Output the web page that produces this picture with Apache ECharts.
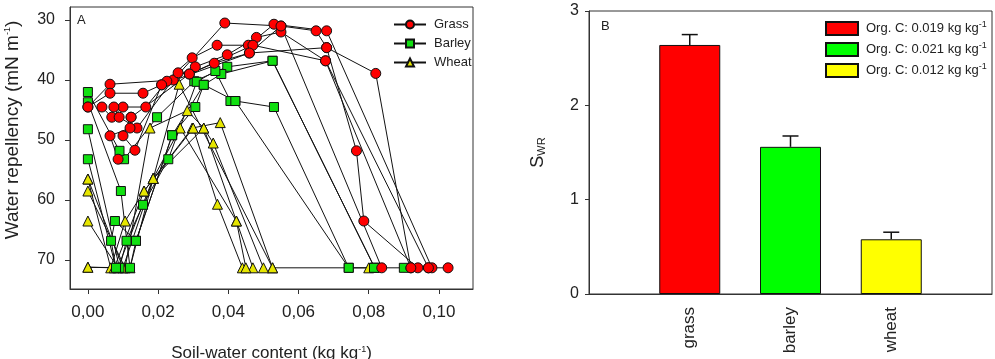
<!DOCTYPE html>
<html>
<head>
<meta charset="utf-8">
<script src="https://cdn.jsdelivr.net/npm/echarts@6/dist/echarts.min.js"></script>
<style>
  html, body { margin: 0; padding: 0; background: #fff; }
  #chart { width: 995px; height: 359px; }
</style>
</head>
<body>
<div id="chart"></div>
<script>
// Panel A: drying curves, [soil-water content, water repellency]
const grassCurves = [
  [[0.1026, 71.3], [0.097, 71.3], [0.092, 71.3], [0.082, 38.9], [0.068, 34.6], [0.065, 31.8], [0.055, 31], [0.039, 30.5], [0.0243, 40], [0.0063, 40.7], [0, 44.5]],
  [[0.098, 71.3], [0.068, 31.8], [0.053, 30.7], [0.0457, 34.2], [0.0368, 34.2], [0.0297, 36.3], [0.021, 40.8], [0.0157, 42.2], [0.0063, 42.2], [0, 44.5]],
  [[0.097, 71.3], [0.0677, 36.8], [0.055, 32], [0.048, 32.9], [0.0397, 35.8], [0.0306, 37.8], [0.0225, 40.2], [0.0165, 44.5], [0.01, 44.5], [0.0068, 46.2], [0.004, 44.5]],
  [[0.094, 71.3], [0.0786, 63.5], [0.0765, 51.8], [0.068, 34.6], [0.046, 35.5], [0.036, 37.2], [0.0289, 39], [0.0257, 38.8], [0.014, 48], [0.0089, 46.2], [0.0074, 44.5]],
  [[0.092, 71.3], [0.0677, 36.8], [0.047, 34.2], [0.0289, 39], [0.0123, 46.2], [0.012, 48], [0.0063, 49.3], [0.0086, 53.2]],
  [[0.0837, 71.3], [0.055, 31], [0.046, 35.5], [0.021, 40.8], [0.0134, 51.7], [0.01, 49.3], [0.0123, 46.2]]
];
const barleyCurves = [
  [[0.09, 71.3], [0.0817, 71.3], [0.0526, 36.8], [0.0397, 37.8], [0.0303, 40.2], [0.0197, 46.2], [0.0103, 53.2], [0.009, 51.8], [0, 42]],
  [[0.0817, 71.3], [0.0526, 36.8], [0.038, 39], [0.033, 40.8], [0.024, 49.2], [0.0137, 66.8], [0.012, 71.3], [0.0094, 58.5], [0, 43.7]],
  [[0.0743, 71.3], [0.042, 43.5], [0.0406, 43.5], [0.0363, 38.5], [0.031, 40.3], [0.0229, 53.2], [0.0157, 60.8], [0.011, 66.8], [0.009, 71.3], [0, 48.2]],
  [[0.0815, 71.3], [0.0743, 71.3], [0.053, 44.5], [0.042, 43.5], [0.033, 40.8], [0.0306, 44.5], [0.024, 49.2], [0.0137, 66.8], [0.0077, 63.5], [0.0066, 66.8], [0.008, 71.3], [0, 53.2]]
];
const wheatCurves = [
  [[0.08, 71.3], [0.0526, 71.3], [0.026, 40.7], [0.0186, 56.4], [0.012, 71.3], [0, 71.2]],
  [[0.0526, 71.3], [0.0377, 47.1], [0.0297, 48], [0.016, 58.5], [0.0106, 63.5], [0.0065, 71.3], [0, 56.5]],
  [[0.05, 71.3], [0.0357, 50.5], [0.033, 48], [0.0283, 45.1], [0.0177, 48], [0.0106, 71.3], [0, 58.5]],
  [[0.047, 71.3], [0.0423, 63.5], [0.0263, 48], [0.0186, 56.4], [0.0085, 71.3], [0, 63.5]],
  [[0.044, 71.3], [0.0369, 60.7], [0.03, 48], [0.016, 58.5], [0.0075, 71.3], [0, 71.2]],
  [[0.045, 71.3], [0.0423, 63.5], [0.033, 48], [0.0186, 56.4], [0.01, 71.3], [0, 56.5]]
];
const xTicksA = [0, 0.02, 0.04, 0.06, 0.08, 0.10];
const yTicksA = [30, 40, 50, 60, 70];

// Panel B: S_WR per crop
const cropNames = ['', 'grass', 'barley', 'wheat', ''];
const swrValues = [2.64, 1.56, 0.58];
const swrErrors = [0.11, 0.115, 0.075];
const orgCLabels = ['Org. C: 0.019 kg kg-1', 'Org. C: 0.021 kg kg-1', 'Org. C: 0.012 kg kg-1'];
const barColors = ['#ff0000', '#00ff00', '#ffff00'];

const txt = '#222';
const font = 'Liberation Sans, Arial, sans-serif';
const sup = { fontSize: 9, verticalAlign: 'top', padding: [0, 0, 8, 0], color: txt };

const chart = echarts.init(document.getElementById('chart'));

function curveSeries(curves, name, symbol, size, color) {
  return curves.map((c) => ({
    type: 'line',
    name: name,
    xAxisIndex: 0,
    yAxisIndex: 0,
    data: c,
    symbol: symbol,
    symbolSize: size,
    showAllSymbol: true,
    animation: false,
    lineStyle: { color: '#111', width: 1 },
    itemStyle: { color: color, borderColor: '#111', borderWidth: 1 }
  }));
}

const barSeries = swrValues.map((v, i) => ({
  type: 'bar',
  name: orgCLabels[i],
  xAxisIndex: 1,
  yAxisIndex: 1,
  barWidth: 61,
  barGap: '-100%',
  data: cropNames.map((c, j) => (j === i + 1 ? v : '-')),
  itemStyle: { color: barColors[i], borderColor: '#111', borderWidth: 1 },
  animation: false
}));

const errSeries = {
  type: 'custom',
  xAxisIndex: 1,
  yAxisIndex: 1,
  z: 5,
  animation: false,
  data: swrValues.map((v, i) => [i + 1, v, v + swrErrors[i]]),
  renderItem: (params, api) => {
    const base = api.coord([api.value(0), api.value(1)]);
    const top = api.coord([api.value(0), api.value(2)]);
    const st = { stroke: '#111', lineWidth: 1.5 };
    return {
      type: 'group',
      children: [
        { type: 'line', shape: { x1: base[0], y1: base[1], x2: top[0], y2: top[1] }, style: st },
        { type: 'line', shape: { x1: top[0] - 8, y1: top[1], x2: top[0] + 8, y2: top[1] }, style: st }
      ]
    };
  }
};

const option = {
  backgroundColor: '#fff',
  textStyle: { fontFamily: font, color: txt },
  grid: [
    { left: 70, top: 7, width: 403, height: 282, outerBoundsMode: 'none', containLabel: false, show: true, borderColor: '#333', borderWidth: 1, backgroundColor: 'transparent' },
    { left: 589, top: 11, width: 403, height: 283, outerBoundsMode: 'none', containLabel: false, show: true, borderColor: '#333', borderWidth: 1, backgroundColor: 'transparent' }
  ],
  legend: [
    {
      data: ['Grass', 'Barley', 'Wheat'],
      orient: 'vertical',
      left: 388,
      top: 13,
      itemWidth: 32,
      itemHeight: 10,
      itemGap: 6,
      textStyle: { fontSize: 13, color: txt, padding: [0, 0, 0, 3] }
    },
    {
      data: orgCLabels,
      orient: 'vertical',
      left: 820,
      top: 15,
      itemWidth: 32,
      itemHeight: 13,
      itemGap: 5,
      icon: 'rect',
      formatter: (n) => n.replace('-1', '{sup|-1}'),
      textStyle: { fontSize: 13, color: txt, padding: [0, 0, 0, 3], rich: { sup: sup } }
    }
  ],
  xAxis: [
    {
      type: 'value',
      gridIndex: 0,
      min: -0.0051,
      max: 0.1097,
      splitLine: { show: false },
      axisLine: { show: true, onZero: false, lineStyle: { color: '#333' } },
      axisTick: { show: true, length: 5, customValues: xTicksA, lineStyle: { color: '#333' } },
      axisLabel: {
        customValues: xTicksA,
        margin: 15,
        fontSize: 17,
        color: txt,
        formatter: (v) => v.toFixed(2).replace('.', ',')
      },
      name: 'Soil-water content (kg kg{sup|-1})',
      nameLocation: 'middle',
      nameGap: 56,
      nameTextStyle: { fontSize: 17, color: txt, rich: { sup: sup } }
    },
    {
      type: 'category',
      gridIndex: 1,
      data: cropNames,
      boundaryGap: false,
      axisLine: { show: true, lineStyle: { color: '#333' } },
      axisTick: { show: false },
      axisLabel: { rotate: 90, margin: 13, fontSize: 17, color: txt, interval: 0 }
    }
  ],
  yAxis: [
    {
      type: 'value',
      gridIndex: 0,
      inverse: true,
      min: 27.83,
      max: 74.83,
      splitLine: { show: false },
      axisLine: { show: true, onZero: false, lineStyle: { color: '#333' } },
      axisTick: { show: true, length: 5, customValues: yTicksA, lineStyle: { color: '#333' } },
      axisLabel: { customValues: yTicksA, margin: 15, fontSize: 16, color: txt },
      name: 'Water repellency (mN m{sup|-1})',
      nameLocation: 'middle',
      nameGap: 48,
      nameTextStyle: { fontSize: 19, color: txt, padding: [0, 0, 0, 36], rich: { sup: sup } }
    },
    {
      type: 'value',
      gridIndex: 1,
      min: 0,
      max: 3,
      interval: 1,
      splitLine: { show: false },
      axisLine: { show: true, lineStyle: { color: '#333' } },
      axisTick: { show: true, length: 4, lineStyle: { color: '#333' } },
      axisLabel: { margin: 10, fontSize: 16, color: txt },
      name: 'S{sub|WR}',
      nameLocation: 'middle',
      nameGap: 42,
      nameTextStyle: {
        fontSize: 18,
        color: txt,
        rich: { sub: { fontSize: 11, verticalAlign: 'bottom', padding: [6, 0, 0, 0], color: txt } }
      }
    }
  ],
  graphic: [
    { type: 'text', left: 77, top: 14, style: { text: 'A', font: '13px Liberation Sans', fill: txt } },
    { type: 'text', left: 601, top: 20, style: { text: 'B', font: '13px Liberation Sans', fill: txt } }
  ],
  series: [
    ...curveSeries(wheatCurves, 'Wheat', 'triangle', 10, '#e6e600'),
    ...curveSeries(barleyCurves, 'Barley', 'rect', 9, '#11e011'),
    ...curveSeries(grassCurves, 'Grass', 'circle', 10, '#ff0000'),
    ...barSeries,
    errSeries
  ]
};

chart.setOption(option);
</script>
</body>
</html>
